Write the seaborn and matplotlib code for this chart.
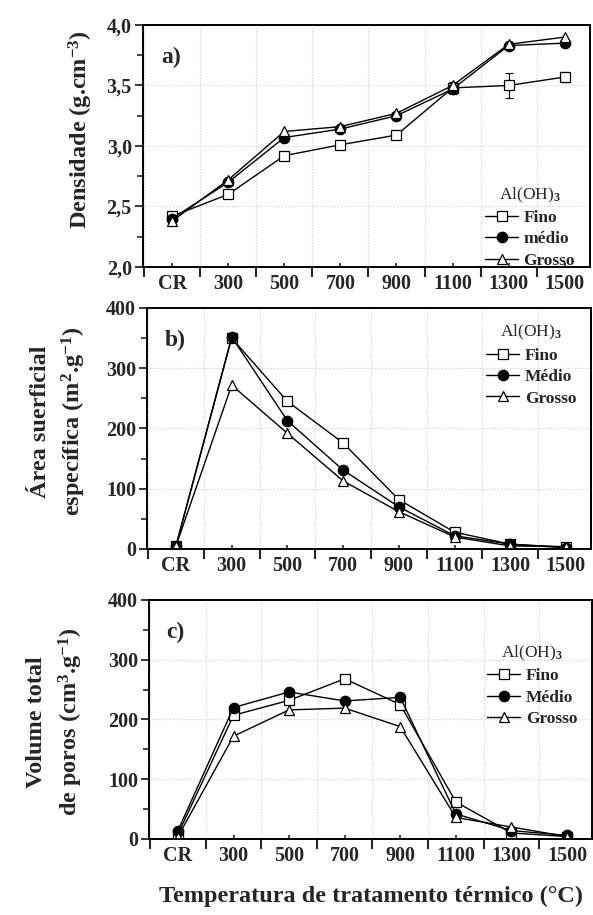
import numpy as np
import matplotlib
matplotlib.use("Agg")
import matplotlib.pyplot as plt
import seaborn as sns
from matplotlib.ticker import FuncFormatter, MultipleLocator

# categorias de temperatura
temps = ["CR", "300", "500", "700", "900", "1100", "1300", "1500"]

# a) densidade (g/cm3)
dens_fino = [2.42, 2.60, 2.92, 3.01, 3.09, 3.48, 3.50, 3.57]
dens_fino_err = [0.02, 0.02, 0.02, 0.02, 0.02, 0.05, 0.10, 0.04]
dens_medio = [2.40, 2.70, 3.07, 3.14, 3.25, 3.47, 3.83, 3.85]
dens_grosso = [2.38, 2.72, 3.12, 3.16, 3.27, 3.50, 3.84, 3.90]

# b) area superficial especifica (m2/g)
area_fino = [5, 350, 245, 176, 82, 28, 8, 3]
area_medio = [5, 352, 213, 131, 70, 22, 8, 2]
area_grosso = [5, 272, 192, 113, 62, 20, 5, 4]

# c) volume total de poros
vol_fino = [8, 207, 232, 268, 225, 62, 10, 4]
vol_medio = [14, 220, 246, 231, 237, 42, 14, 6]
vol_grosso = [4, 172, 216, 219, 188, 36, 20, 4]

sns.set_theme(style="ticks")
plt.rcParams['font.family'] = ['Liberation Serif', 'DejaVu Serif']
plt.rcParams['font.weight'] = 'bold'
plt.rcParams['axes.labelweight'] = 'bold'
plt.rcParams['mathtext.fontset'] = 'custom'
plt.rcParams['mathtext.rm'] = 'Liberation Serif:bold'
plt.rcParams['mathtext.it'] = 'Liberation Serif:bold'
plt.rcParams['mathtext.bf'] = 'Liberation Serif:bold'

fig = plt.figure(figsize=(5.93, 9.15), dpi=100)
ax_a = fig.add_axes([0.2411, 0.7082, 0.7538, 0.2645])
ax_b = fig.add_axes([0.2479, 0.4000, 0.7487, 0.2634])
ax_c = fig.add_axes([0.2513, 0.0831, 0.7470, 0.2612])

xpos = np.arange(len(temps))
estilos = {
    "Fino": dict(marker="s", markerfacecolor="white"),
    "Médio": dict(marker="o", markerfacecolor="black"),
    "Grosso": dict(marker="^", markerfacecolor="white"),
}


def desenha(ax, series, nomes):
    for vals, nome, chave in zip(series, nomes, ["Fino", "Médio", "Grosso"]):
        sns.lineplot(x=xpos, y=vals, ax=ax, color="black", lw=1.0,
                     markersize=7.5, markeredgecolor="black", markeredgewidth=0.9,
                     label=nome, **estilos[chave])


def formata(ax, letra, leg_loc, leg_anchor):
    ax.set_xlim(-0.52, 7.45)
    ax.set_xticks(xpos)
    ax.set_xticklabels(temps)
    ax.set_xticks(np.arange(-0.5, 7.5, 1.0), minor=True)
    ax.tick_params(axis="x", which="major", direction="in", length=3, width=1.2,
                   labelsize=14.5, pad=5)
    ax.tick_params(axis="x", which="minor", direction="out", length=7, width=1.5)
    ax.tick_params(axis="y", which="major", direction="out", length=6, width=1.3,
                   labelsize=14.5, pad=2)
    ax.tick_params(axis="y", which="minor", direction="out", length=4, width=1.2)
    for s in ax.spines.values():
        s.set_linewidth(1.4)
        s.set_color("black")
    ax.grid(True, which="minor", axis="x", ls=":", lw=0.8, color="#cfcfcf")
    ax.grid(True, which="major", axis="y", ls=":", lw=0.8, color="#cfcfcf")
    ax.set_axisbelow(True)
    ax.text(0.04, 0.91, letra, transform=ax.transAxes, fontsize=17,
            fontweight="bold", va="top", ha="left")
    leg = ax.legend(title="Al(OH)$_3$", loc=leg_loc, bbox_to_anchor=leg_anchor,
                    frameon=False, fontsize=12.5, title_fontsize=12.5,
                    handlelength=1.9, handletextpad=0.3, labelspacing=0.3,
                    borderaxespad=0.2)
    leg.get_title().set_fontweight("normal")
    leg.get_title().set_fontfamily(["Liberation Serif"])
    ax.set_xlabel("")


# a)
desenha(ax_a, [dens_fino, dens_medio, dens_grosso], ["Fino", "médio", "Grosso"])
ax_a.errorbar(xpos, dens_fino, yerr=dens_fino_err, fmt="none", ecolor="black",
              elinewidth=0.8, capsize=3, capthick=0.8, zorder=1)
ax_a.set_ylim(2.0, 4.0)
ax_a.yaxis.set_major_locator(MultipleLocator(0.5))
ax_a.yaxis.set_minor_locator(MultipleLocator(0.25))
ax_a.yaxis.set_major_formatter(FuncFormatter(lambda v, p: f"{v:.1f}".replace(".", ",")))
formata(ax_a, "a)", "lower right", (0.99, -0.05))
ax_a.set_ylabel("Densidade (g.cm$^{-3}$)", fontsize=17.5)
ax_a.yaxis.set_label_coords(-0.108, 0.57)

# b)
desenha(ax_b, [area_fino, area_medio, area_grosso], ["Fino", "Médio", "Grosso"])
ax_b.set_ylim(0, 400)
ax_b.yaxis.set_major_locator(MultipleLocator(100))
ax_b.yaxis.set_minor_locator(MultipleLocator(50))
formata(ax_b, "b)", "upper right", (0.99, 0.98))
ax_b.set_ylabel("Área suerficial\nespecífica (m$^{2}$.g$^{-1}$)", fontsize=17.5,
                linespacing=1.45)
ax_b.yaxis.set_label_coords(-0.132, 0.53)

# c)
desenha(ax_c, [vol_fino, vol_medio, vol_grosso], ["Fino", "Médio", "Grosso"])
ax_c.set_ylim(0, 400)
ax_c.yaxis.set_major_locator(MultipleLocator(100))
ax_c.yaxis.set_minor_locator(MultipleLocator(50))
formata(ax_c, "c)", "upper right", (0.99, 0.86))
ax_c.set_ylabel("Volume total\nde poros (cm$^{3}$.g$^{-1}$)", fontsize=17.5,
                linespacing=1.45)
ax_c.yaxis.set_label_coords(-0.145, 0.49)
ax_c.set_xlabel("Temperatura de tratamento térmico (°C)", fontsize=17.5, labelpad=14)

fig.savefig("out.png", dpi=100)
